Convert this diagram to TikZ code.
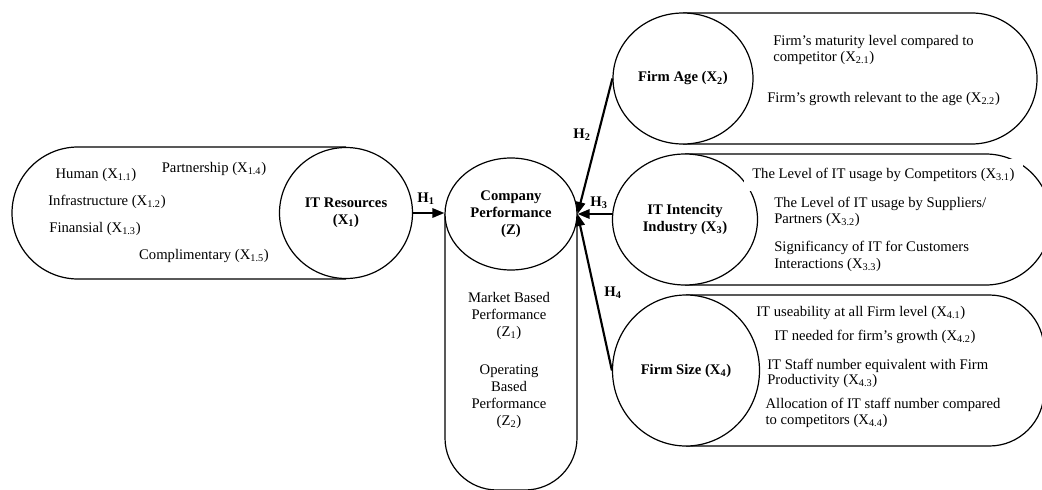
\documentclass[tikz,border=0pt]{standalone}
\usepackage{fontspec}
\setmainfont{Liberation Serif}
\usetikzlibrary{shapes.geometric,arrows.meta}
\newcommand\sbs[1]{\textsubscript{#1}}
\begin{document}
\begin{tikzpicture}[x=0.75pt,y=-0.75pt,
  outline/.style={draw=black,line width=0.9pt,fill=white},
  circ/.style={ellipse,draw=black,line width=0.9pt,fill=white,inner sep=0pt,align=center,font=\fontsize{11}{12.75}\selectfont\bfseries},
  txt/.style={inner sep=0pt,align=left,font=\fontsize{11}{12.3}\selectfont},
  ctxt/.style={inner sep=0pt,align=center,font=\fontsize{11}{12.75}\selectfont},
  hlab/.style={inner sep=0pt,font=\fontsize{11}{12}\selectfont\bfseries},
  link/.style={line width=1.6pt,-{Triangle[length=9pt,width=7pt]}},
]
\useasboundingbox (0,0) rectangle (1042,489);
\clip (0,0) rectangle (1042,489);
% containers (their inner ends are hidden behind the construct circles)
\draw[outline, rounded corners=49.5pt] (346,147) -- (12,147) -- (12,279) -- (346,279);
\draw[outline, rounded corners=39pt] (445,214) -- (445,490) -- (577,490) -- (577,214);
\draw[outline, rounded corners=49pt] (683,13) -- (1037,13) -- (1037,144) -- (683,144);
\draw[outline, rounded corners=49pt] (685,154) -- (1051,154) -- (1051,285) -- (685,285);
\draw[outline, rounded corners=41pt] (686,295) -- (1044,295) -- (1044,446) -- (686,446);
% main constructs
\node[circ, minimum width=133*0.75pt, minimum height=131*0.75pt] (x1) at (346,213) {IT Resources\\(X\sbs{1})};
\node[circ, minimum width=132*0.75pt, minimum height=112*0.75pt] (z) at (511,214) {Company\\Performance\\(Z)};
\node[circ, minimum width=140*0.75pt, minimum height=131*0.75pt] (x2) at (683,78.5) {Firm Age (X\sbs{2})};
\node[circ, minimum width=145*0.75pt, minimum height=131*0.75pt] (x3) at (685,219.5) {IT Intencity\\Industry (X\sbs{3})};
\node[circ, minimum width=147*0.75pt, minimum height=151*0.75pt] (x4) at (686,370.5) {Firm Size (X\sbs{4})};
% indicators
\node[ctxt] (x11) at (96,175) {Human (X\sbs{1.1})};
\node[ctxt] (x14) at (214,169) {Partnership (X\sbs{1.4})};
\node[ctxt] (x12) at (107,202) {Infrastructure (X\sbs{1.2})};
\node[ctxt] (x13) at (95,229) {Finansial (X\sbs{1.3})};
\node[ctxt] (x15) at (204,256) {Complimentary (X\sbs{1.5})};
\node[ctxt] (z1) at (509,316) {Market Based\\Performance\\(Z\sbs{1})};
\node[ctxt] (z2) at (509,397) {Operating\\Based\\Performance\\(Z\sbs{2})};
\node[txt,anchor=west] (x21) at (773,50) {Firm’s maturity level compared to\\competitor (X\sbs{2.1})};
\node[txt,anchor=west] (x22) at (767,99) {Firm’s growth relevant to the age (X\sbs{2.2})};
\node[txt,anchor=west,fill=white,inner xsep=6pt,minimum height=24pt] (x31) at (744,175) {The Level of IT usage by Competitors (X\sbs{3.1})};
\node[txt,anchor=west] (x32) at (774,212) {The Level of IT usage by Suppliers/\\Partners (X\sbs{3.2})};
\node[txt,anchor=west] (x33) at (774,256.5) {Significancy of IT for Customers\\Interactions (X\sbs{3.3})};
\node[txt,anchor=west] (x41) at (756,313) {IT useability at all Firm level (X\sbs{4.1})};
\node[txt,anchor=west] (x42) at (774,337) {IT needed for firm’s growth (X\sbs{4.2})};
\node[txt,anchor=west] (x43) at (767,373.5) {IT Staff number equivalent with Firm\\[-1.5pt]Productivity (X\sbs{4.3})};
\node[txt,anchor=west,fill=white,inner xsep=4pt,inner ysep=2pt] (x44) at (760,413) {Allocation of IT staff number compared\\to competitors (X\sbs{4.4})};
% hypotheses
\draw[link] (x1.east) -- (x1.east -| z.west);
\draw[link] (x2.west) -- (z.east);
\draw[link] (x3.west |- z.east) -- (z.east);
\draw[link] (x4.west) -- (z.east);
\node[hlab] (h1) at (426,199) {H\sbs{1}};
\node[hlab] (h2) at (582,135) {H\sbs{2}};
\node[hlab] (h3) at (599,203) {H\sbs{3}};
\node[hlab] (h4) at (613,293) {H\sbs{4}};
\end{tikzpicture}
\end{document}
